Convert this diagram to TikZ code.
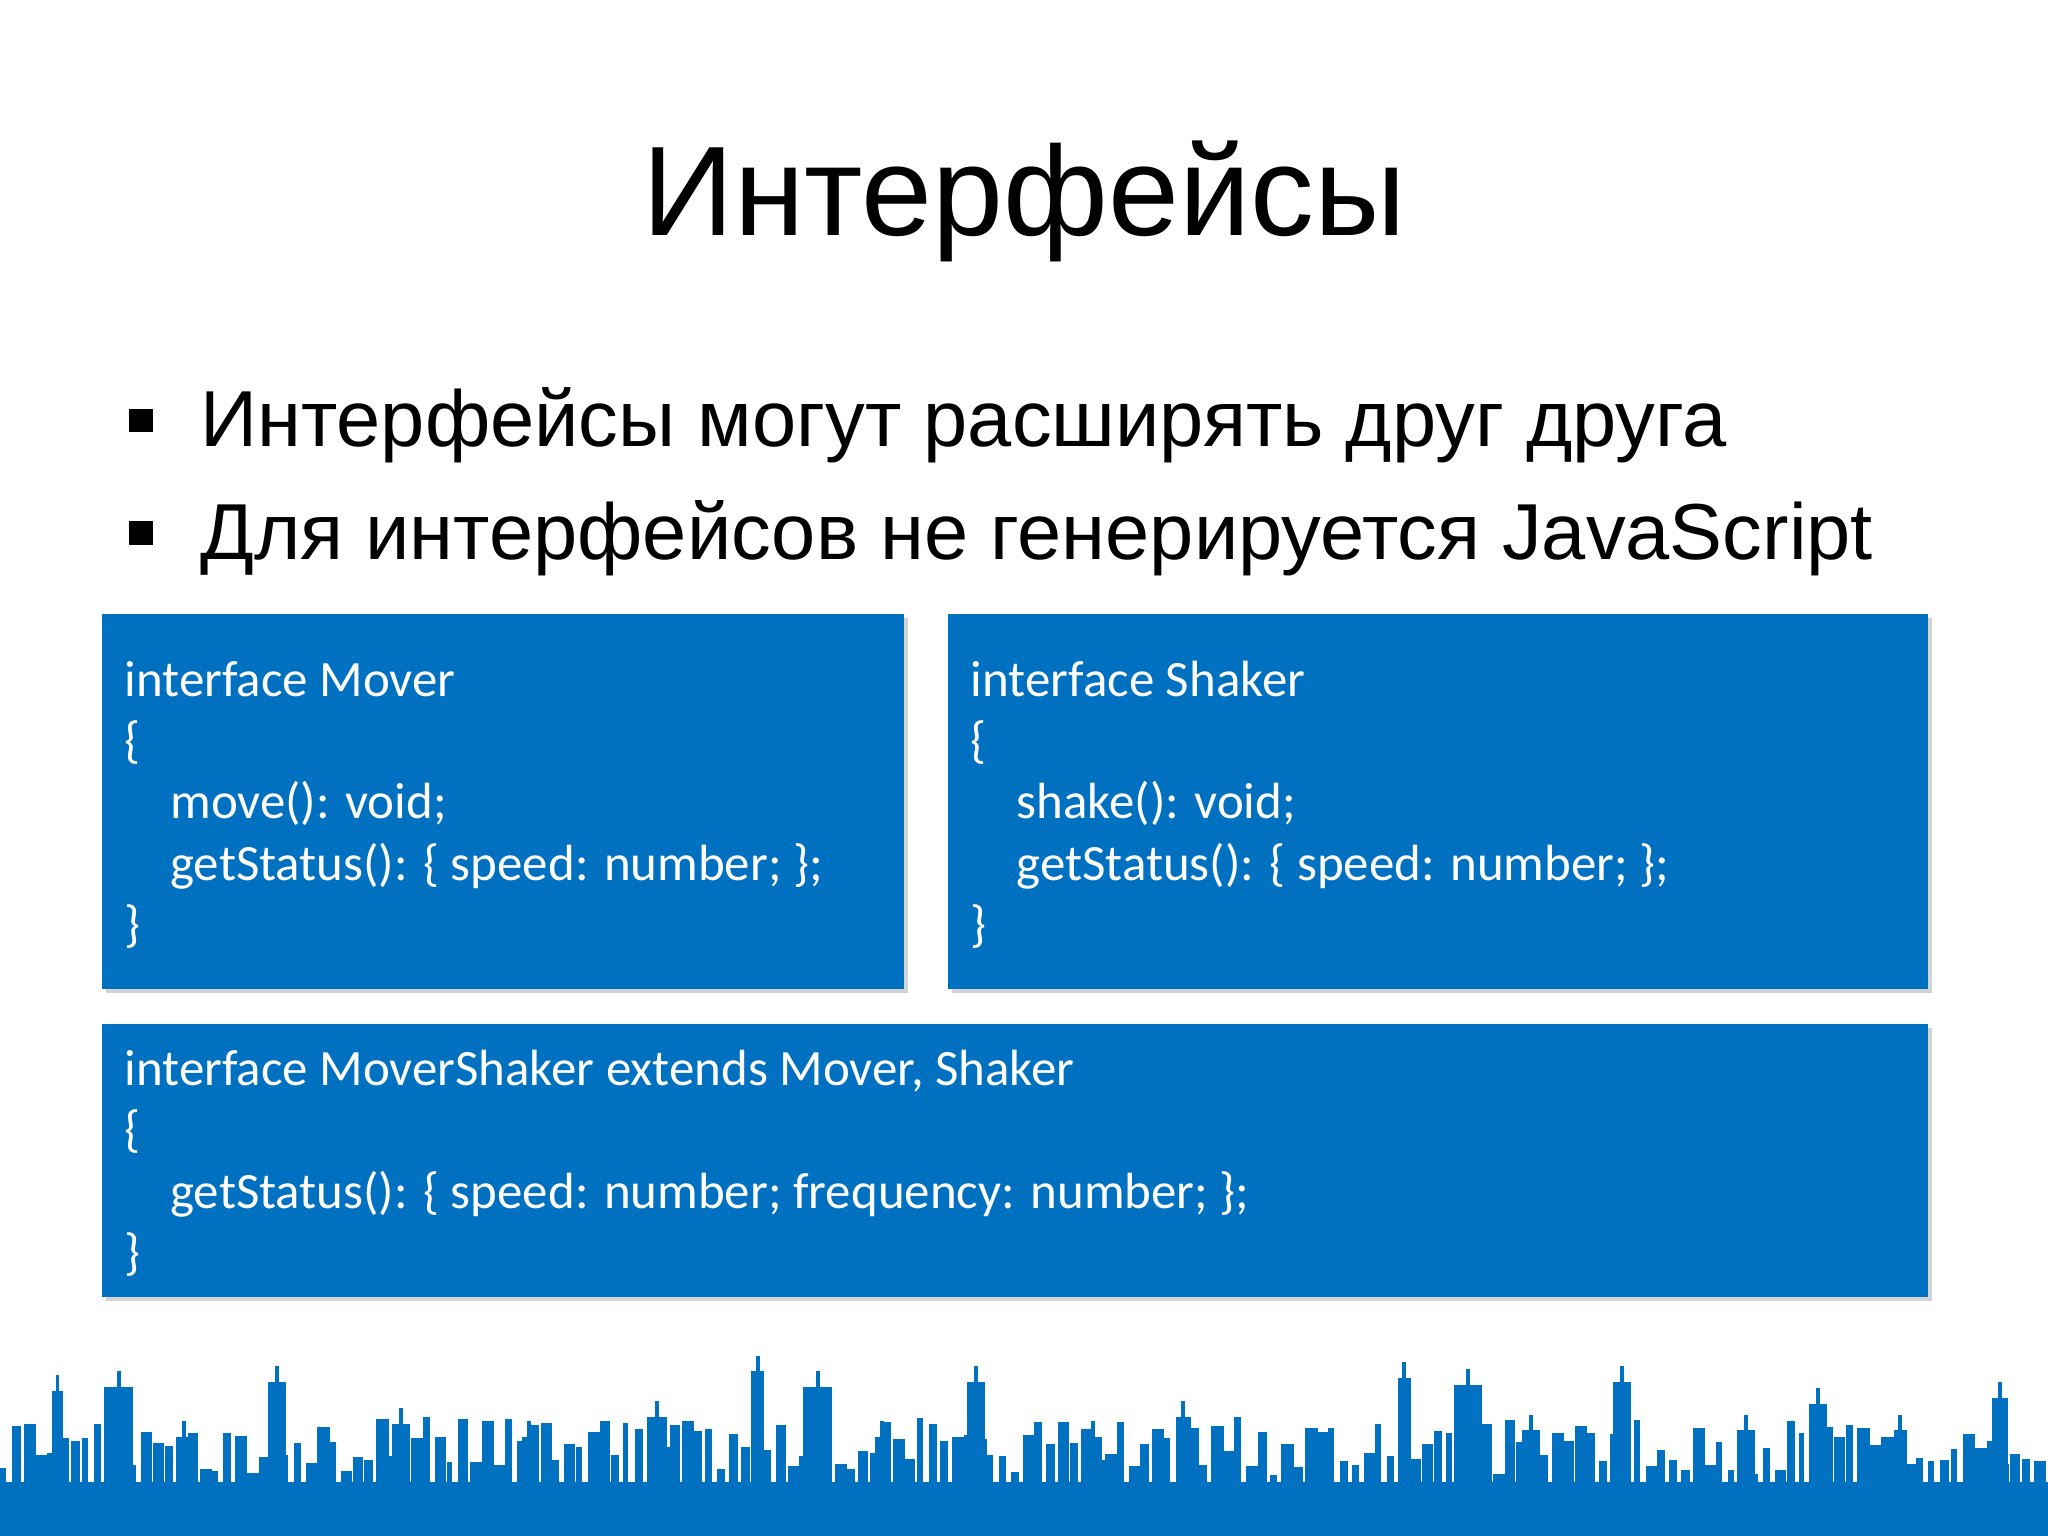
\documentclass[tikz,border=0pt]{standalone}
\usepackage{fontspec}
\setmainfont{Liberation Sans}
\newfontfamily\codefont{Carlito}
\usetikzlibrary{shadows}
\definecolor{mblue}{HTML}{0070C0}
\tikzset{
 codebox/.style={fill=mblue,draw=none,drop shadow={shadow xshift=1.5pt,shadow yshift=-1.5pt,opacity=0.35}},
 code/.style={anchor=base west,text=white,font=\codefont\fontsize{19.5}{22}\selectfont,inner sep=0},
 bul/.style={anchor=base west,font=\fontsize{30.4}{34}\selectfont,inner sep=0},
}
\begin{document}
\begin{tikzpicture}[x=0.5pt,y=-0.5pt]
\useasboundingbox (0,0) rectangle (1568,1176);
\node[anchor=base,font=\fontsize{48.8}{56}\selectfont,inner sep=0] (title) at (784,180) {Интерфейсы};
\fill (99,313) rectangle (117,331);
\node[bul] (b1) at (153,342) {Интерфейсы могут расширять друг друга};
\fill (99,399) rectangle (117,417);
\node[bul] (b2) at (153,428) {Для интерфейсов не генерируется JavaScript};
\fill[codebox] (78,470) rectangle (692,757);
\fill[codebox] (726,470) rectangle (1476,757);
\fill[codebox] (78,784) rectangle (1476,993);
\node[code] (m1) at (95,533) {interface Mover};
\node[code] (m2) at (95,580) {\{};
\node[code] (m3) at (130,627) {move(): void;};
\node[code] (m4) at (130,674) {getStatus(): \{ speed: number; \};};
\node[code] (m5) at (95,721) {\}};
\node[code] (s1) at (743,533) {interface Shaker};
\node[code] (s2) at (743,580) {\{};
\node[code] (s3) at (778,627) {shake(): void;};
\node[code] (s4) at (778,674) {getStatus(): \{ speed: number; \};};
\node[code] (s5) at (743,721) {\}};
\node[code] (x1) at (95,831) {interface MoverShaker extends Mover, Shaker};
\node[code] (x2) at (95,878) {\{};
\node[code] (x3) at (130,925) {getStatus(): \{ speed: number; frequency: number; \};};
\node[code] (x4) at (95,972) {\}};
% skyline
\fill[mblue] (0,1135) rectangle (1568,1176);
\pgfmathsetseed{7}
\foreach \x in {0,9,...,1560}{
  \pgfmathsetmacro\h{1085+45*rnd}
  \pgfmathsetmacro\w{4+6*rnd}
  \fill[mblue] (\x,\h) rectangle (\x+\w,1140);
}
\foreach \x/\t/\w in {40/1065/8,80/1062/22,135/1100/12,205/1058/14,300/1090/14,400/1100/10,495/1085/16,575/1050/10,615/1062/22,670/1100/10,740/1058/14,830/1100/14,900/1085/12,1070/1055/10,1113/1060/22,1165/1095/14,1235/1058/14,1330/1095/14,1385/1075/14,1450/1095/10,1525/1070/12}{
  \fill[mblue] (\x,\t) rectangle (\x+\w,1140);
  \fill[mblue] (\x+\w/2-1.5,\t-12) rectangle (\x+\w/2+1.5,\t);
}
\end{tikzpicture}
\end{document}
